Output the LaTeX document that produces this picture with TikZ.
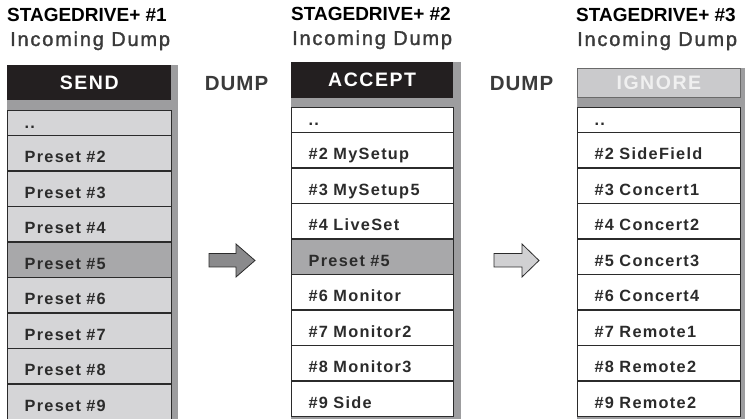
\documentclass[tikz,border=0pt]{standalone}
\usepackage{fontspec}
\setmainfont{Liberation Sans}
\newfontfamily\rowfont[LetterSpace=8]{Liberation Sans}
\newfontfamily\subfont[LetterSpace=9,FakeBold=1.6]{Liberation Sans}
\newfontfamily\dumpfont[LetterSpace=5]{Liberation Sans}
\definecolor{shadowgray}{HTML}{9D9D9F}
\definecolor{headblack}{HTML}{231F20}
\definecolor{lightrow}{HTML}{D5D5D7}
\definecolor{hirow}{HTML}{A8A8AA}
\definecolor{rowline}{HTML}{2B2B2B}
\definecolor{txt}{HTML}{2B2B2B}
\definecolor{ignfill}{HTML}{CACACC}
\definecolor{ignline}{HTML}{6A6A6A}
\definecolor{igntext}{HTML}{F0F0F0}
\definecolor{subgray}{HTML}{3A3A3A}
\definecolor{arrowdark}{HTML}{8A8A8C}
\definecolor{arrowlight}{HTML}{D0D0D2}
\tikzset{
  rowbox/.style={draw=rowline, line width=1.2pt, rectangle, inner xsep=17pt, inner ysep=0pt,
    minimum height=35.5pt, text width=#1, align=left, text height=18.5pt, text depth=0pt,
    font=\rowfont\bfseries\fontsize{16.3}{16}\selectfont, text=txt, anchor=north west},
  dotbox/.style={rowbox=#1, minimum height=25pt, text height=11pt},
  headbox/.style={rectangle, inner sep=0pt, anchor=north west, font=\rowfont\bfseries\fontsize{19.5}{19}\selectfont},
  titletext/.style={anchor=base west, inner sep=0pt, font=\bfseries\fontsize{19}{19}\selectfont, text=black},
  subtext/.style={anchor=base west, inner sep=0pt, font=\subfont\fontsize{20}{20}\selectfont, text=subgray},
  dumptext/.style={anchor=base, inner sep=0pt, font=\dumpfont\bfseries\fontsize{20.5}{20}\selectfont, text=subgray},
  blockarrow/.style={draw=rowline, line width=0.8pt, line join=miter}
}
\begin{document}
\begin{tikzpicture}[x=1pt,y=-1pt]
\useasboundingbox (0,0) rectangle (745,419);
% ---------- titles ----------
\node[titletext] (t1) at (7,22) {STAGEDRIVE+ \#1};
\node[subtext] (s1) at (10,46) {Incoming Dump};
\node[titletext] (t2) at (291,21) {STAGEDRIVE+ \#2};
\node[subtext] (s2) at (292,45) {Incoming Dump};
\node[titletext] (t3) at (576,22) {STAGEDRIVE+ \#3};
\node[subtext] (s3) at (577,46) {Incoming Dump};
\node[dumptext] (d1) at (236.5,91) {DUMP};
\node[dumptext] (d2) at (521.5,91) {DUMP};
% ---------- column 1 ----------
\fill[shadowgray] (7,65) rectangle (178,420);
\node[headbox, fill=headblack, minimum width=164pt, minimum height=35pt, text=white] (h1) at (7,65) {SEND};
\node[dotbox=130pt, fill=lightrow] (c1r1) at (7,110) {..};
\foreach \t/\f [count=\i from 2] in {Preset \#2/lightrow, Preset \#3/lightrow, Preset \#4/lightrow, Preset \#5/hirow, Preset \#6/lightrow, Preset \#7/lightrow, Preset \#8/lightrow, Preset \#9/lightrow}
  \node[rowbox=130pt, fill=\f] (c1r\i) at (7,{135+35.5*(\i-2)}) {\t};
% ---------- column 2 ----------
\fill[shadowgray] (291,62) rectangle (461,420);
\node[headbox, fill=headblack, minimum width=162pt, minimum height=36pt, text=white] (h2) at (291,62) {ACCEPT};
\node[dotbox=128pt, fill=white] (c2r1) at (291,107) {..};
\foreach \t/\f [count=\i from 2] in {\#2 MySetup/white, \#3 MySetup5/white, \#4 LiveSet/white, Preset \#5/hirow, \#6 Monitor/white, \#7 Monitor2/white, \#8 Monitor3/white, \#9 Side/white}
  \node[rowbox=128pt, fill=\f] (c2r\i) at (291,{132+35.5*(\i-2)}) {\t};
% ---------- column 3 ----------
\fill[shadowgray] (577,68) rectangle (750,420);
\node[headbox, fill=ignfill, draw=ignline, line width=0.8pt, minimum width=163pt, minimum height=29pt, text=igntext] (h3) at (577,68) {IGNORE};
\node[dotbox=129pt, fill=white] (c3r1) at (577,107) {..};
\foreach \t/\f [count=\i from 2] in {\#2 SideField/white, \#3 Concert1/white, \#4 Concert2/white, \#5 Concert3/white, \#6 Concert4/white, \#7 Remote1/white, \#8 Remote2/white, \#9 Remote2/white}
  \node[rowbox=129pt, fill=\f] (c3r\i) at (577,{132+35.5*(\i-2)}) {\t};
% ---------- block arrows ----------
\draw[blockarrow, fill=arrowdark] (209,253.5) -- (236,253.5) -- (236,244) -- (255,260.5) -- (236,277) -- (236,267) -- (209,267) -- cycle;
\draw[blockarrow, fill=arrowlight] (494,253.5) -- (522,253.5) -- (522,244) -- (539,260.5) -- (522,277) -- (522,267) -- (494,267) -- cycle;
\end{tikzpicture}
\end{document}
